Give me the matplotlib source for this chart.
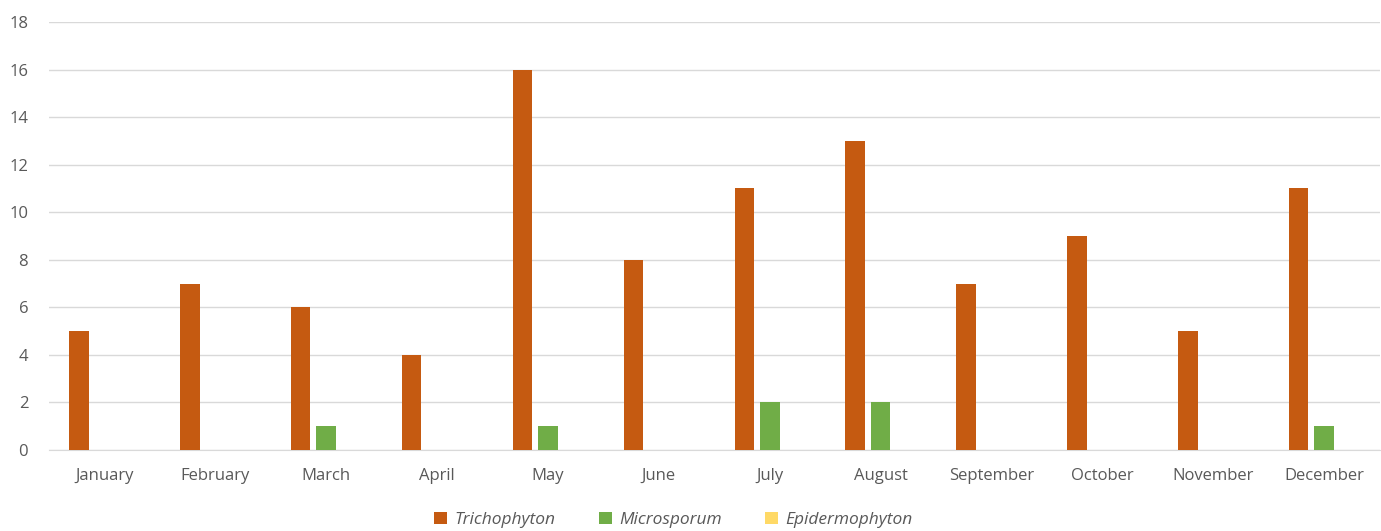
import numpy as np
import matplotlib
matplotlib.use("Agg")
import matplotlib.pyplot as plt

months = ["January", "February", "March", "April", "May", "June", "July",
          "August", "September", "October", "November", "December"]
trichophyton = [5, 7, 6, 4, 16, 8, 11, 13, 7, 9, 5, 11]
microsporum = [0, 0, 1, 0, 1, 0, 2, 2, 0, 0, 0, 1]
epidermophyton = [0, 0, 0, 0, 0, 0, 0, 0, 0, 0, 0, 0]

series = [("Trichophyton", trichophyton, "#C55A11"),
          ("Microsporum", microsporum, "#70AD47"),
          ("Epidermophyton", epidermophyton, "#FFD966")]

plt.rcParams['font.family'] = ['Open Sans', 'DejaVu Sans']

fig = plt.figure(figsize=(13.81, 5.31), dpi=100)
ax = fig.add_axes([0.0355, 0.1525, 0.9635, 0.8061])

x = np.arange(len(months))
width = 0.176
step = 0.23
for i, (name, vals, col) in enumerate(series):
    ax.bar(x + (i - 1) * step, vals, width, color=col, label=name, zorder=3)

ax.set_xlim(-0.5, len(months) - 0.5)
ax.set_ylim(0, 18)
ax.set_yticks(range(0, 19, 2))
ax.set_xticks(x)
ax.set_xticklabels(months)
ax.grid(axis='y', color='#D9D9D9', linewidth=1, zorder=0)
for s in ['top', 'right', 'left']:
    ax.spines[s].set_visible(False)
ax.spines['bottom'].set_color('#D9D9D9')
ax.tick_params(axis='both', length=0, colors='#595959', labelsize=12)
ax.tick_params(axis='x', pad=13)
ax.tick_params(axis='y', pad=15)

leg = fig.legend(loc='center', bbox_to_anchor=(0.4875, 0.021), ncol=3,
                 frameon=False, handlelength=0.75, handleheight=0.75,
                 handletextpad=0.4, columnspacing=2.5, borderpad=0,
                 prop={'style': 'italic', 'size': 12.5})
for t in leg.get_texts():
    t.set_color('#595959')

fig.savefig("out.png", dpi=100)
